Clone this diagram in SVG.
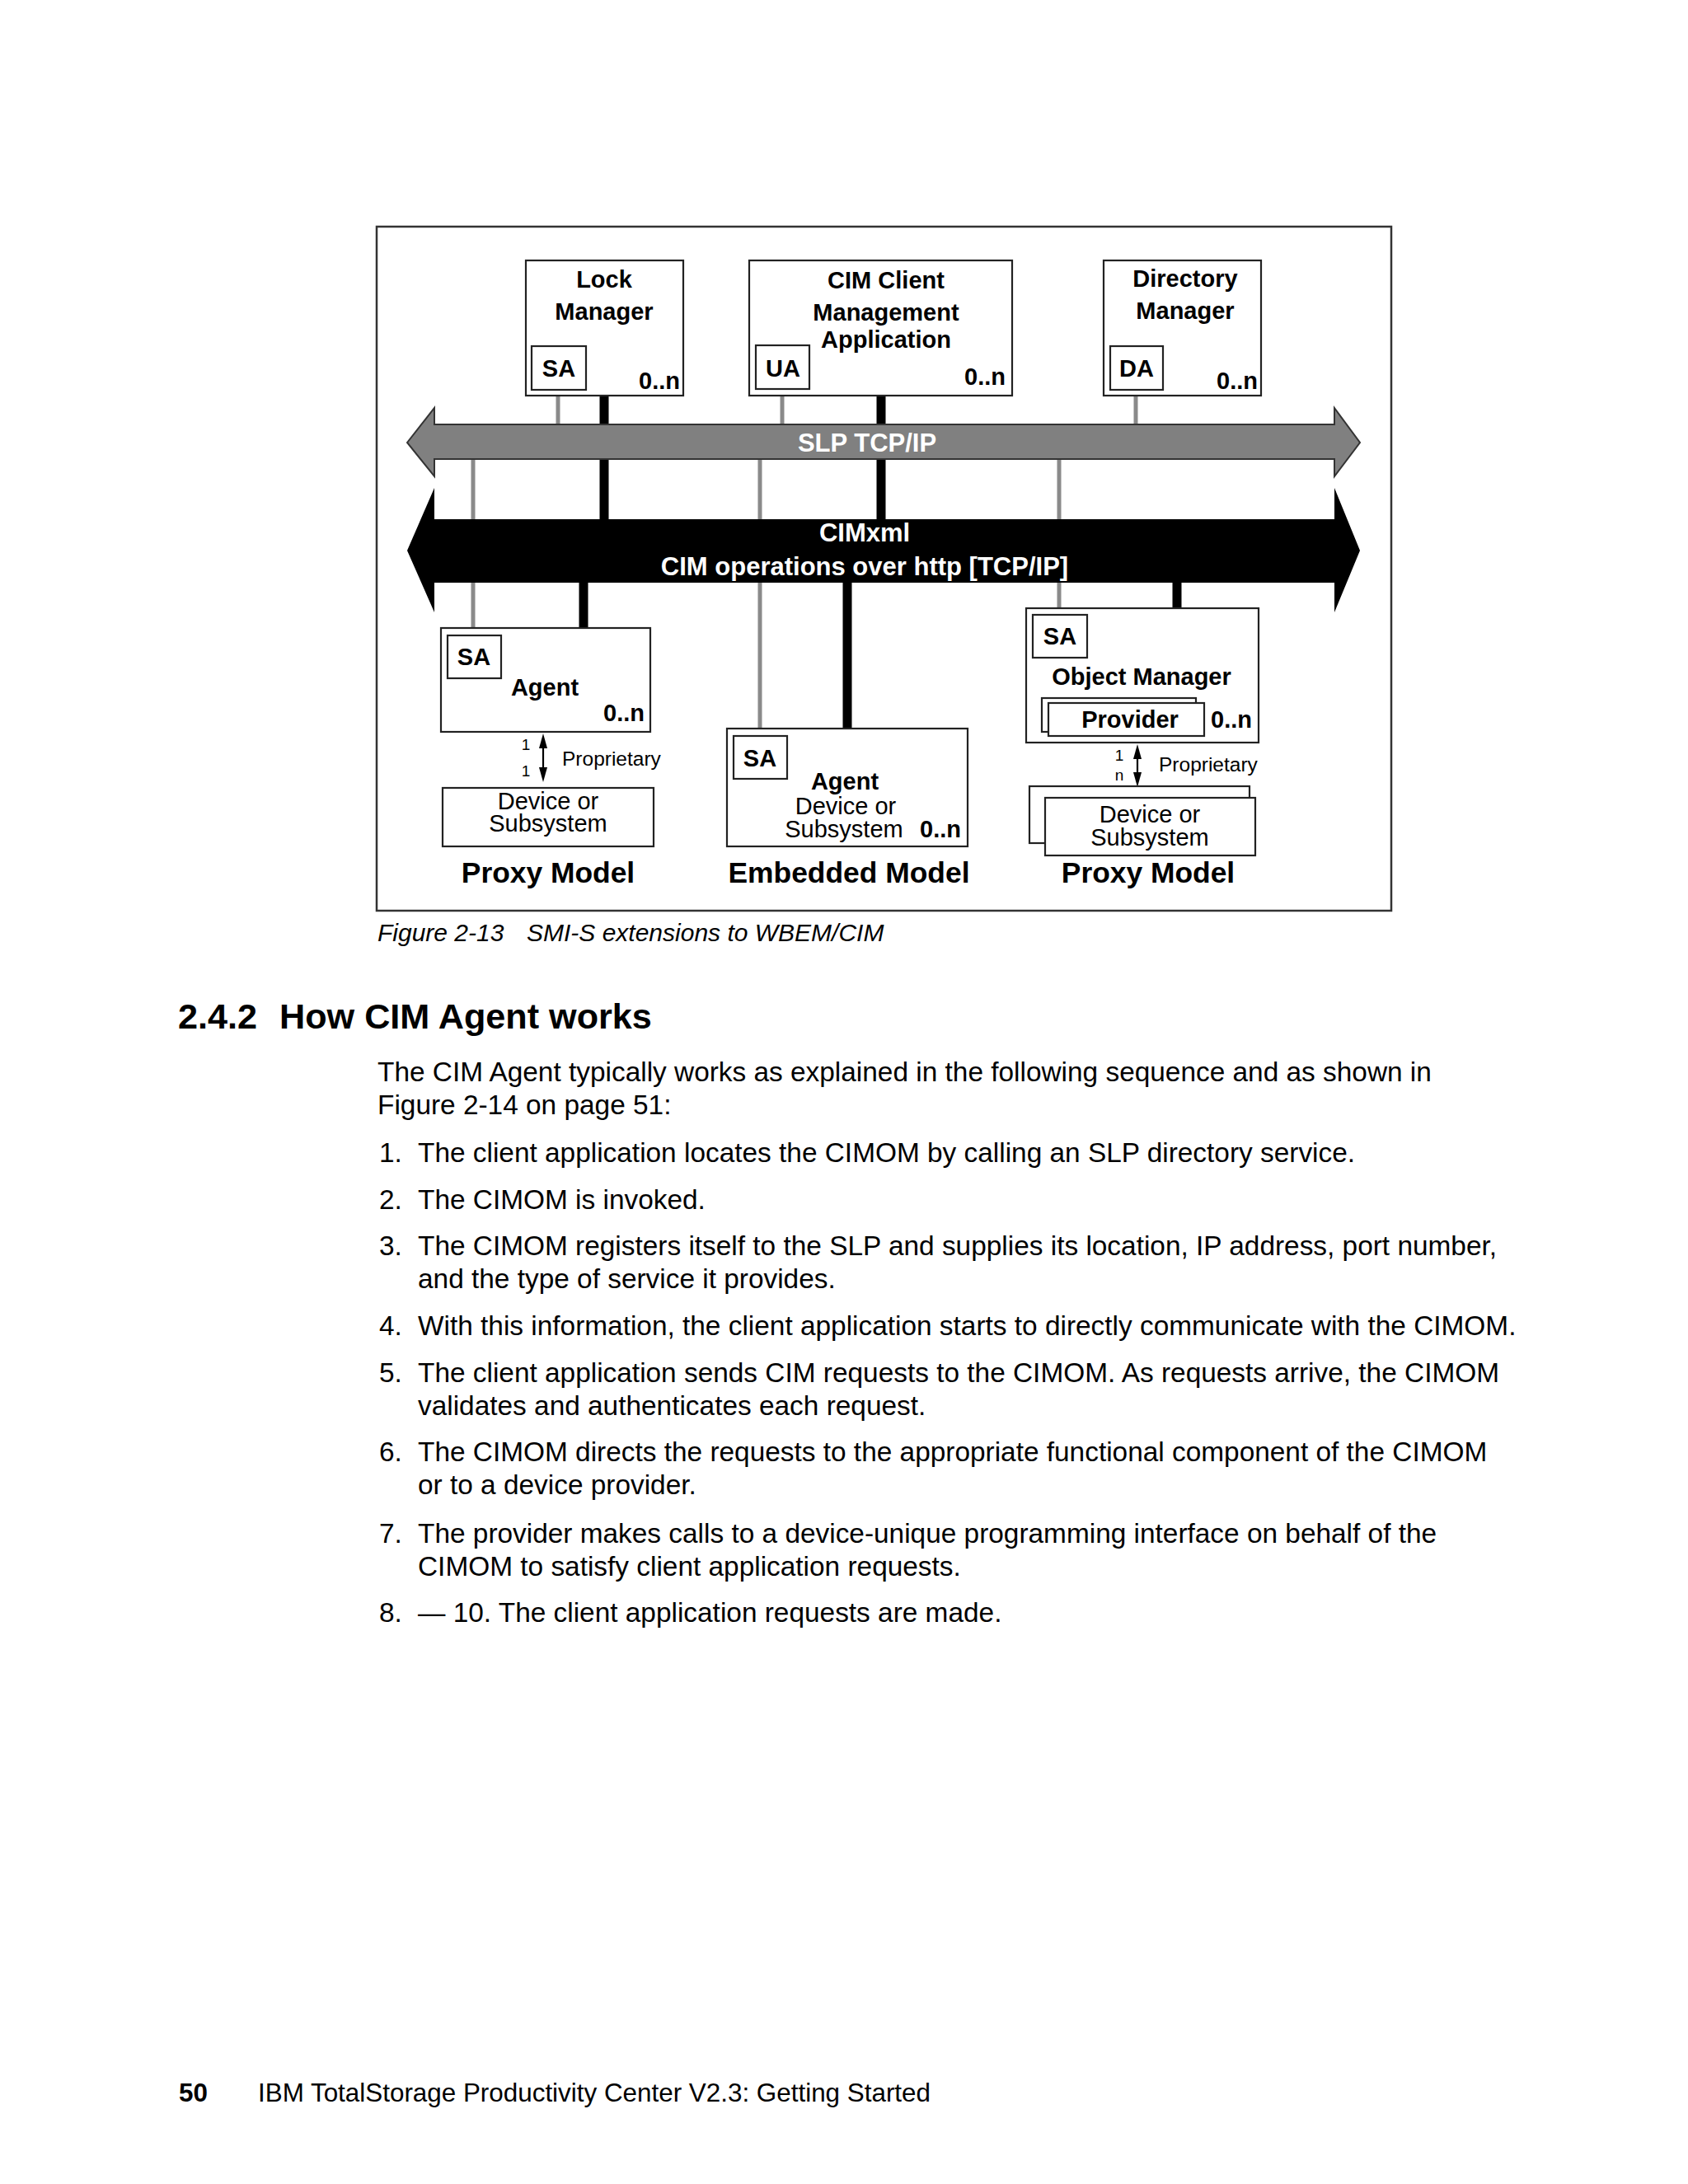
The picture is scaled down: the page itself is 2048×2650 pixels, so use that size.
<svg xmlns="http://www.w3.org/2000/svg" width="2048" height="2650" viewBox="0 0 2048 2650">
<style>
.box{fill:#fff;stroke:#222;stroke-width:2.2}
.frame{fill:none;stroke:#333;stroke-width:2.5}
.g{stroke:#8a8a8a;stroke-width:5;fill:none}
.k{stroke:#000;stroke-width:11;fill:none}
.thin{stroke:#000;stroke-width:2.2;fill:none}
.b{font-family:"Liberation Sans",Arial,sans-serif;font-weight:bold;font-size:29px;fill:#000}
.r{font-family:"Liberation Sans",Arial,sans-serif;font-size:29px;fill:#000}
.sm{font-family:"Liberation Sans",Arial,sans-serif;font-size:24.5px;fill:#000}
.dg{font-family:"Liberation Sans",Arial,sans-serif;font-size:19px;fill:#000}
.w{font-family:"Liberation Sans",Arial,sans-serif;font-weight:bold;font-size:31px;fill:#fff}
.model{font-family:"Liberation Sans",Arial,sans-serif;font-weight:bold;font-size:35.4px;fill:#000}
.body{font-family:"Liberation Sans",Arial,sans-serif;font-size:33.4px;fill:#000}
.cap{font-family:"Liberation Sans",Arial,sans-serif;font-style:italic;font-size:30px;fill:#000}
.head{font-family:"Liberation Sans",Arial,sans-serif;font-weight:bold;font-size:43.2px;fill:#000}
.foot{font-family:"Liberation Sans",Arial,sans-serif;font-size:31.4px;fill:#000}
.c{text-anchor:middle}
.e{text-anchor:end}
</style>

<rect class="frame" x="457" y="275" width="1231" height="830"/>

<!-- connectors -->
<g id="connectors">
  <line class="g" x1="677" y1="473" x2="677" y2="520"/>
  <line class="g" x1="949" y1="472" x2="949" y2="520"/>
  <line class="g" x1="1378" y1="473" x2="1378" y2="520"/>
  <line class="g" x1="574" y1="552" x2="574" y2="771"/>
  <line class="g" x1="922" y1="552" x2="922" y2="893"/>
  <line class="g" x1="1285" y1="552" x2="1285" y2="746"/>
  <line class="k" x1="733" y1="480" x2="733" y2="635"/>
  <line class="k" x1="1069" y1="480" x2="1069" y2="635"/>
  <line class="k" x1="708" y1="700" x2="708" y2="762"/>
  <line class="k" x1="1028" y1="700" x2="1028" y2="884"/>
  <line class="k" x1="1428" y1="700" x2="1428" y2="738"/>
  <!-- proprietary arrows -->
  <line class="thin" x1="659" y1="904" x2="659" y2="936"/>
  <polygon points="659,890 654,908 664,908" fill="#000"/>
  <polygon points="659,949 654,931 664,931" fill="#000"/>
  <line class="thin" x1="1380" y1="916" x2="1380" y2="942"/>
  <polygon points="1380,903 1375,921 1385,921" fill="#000"/>
  <polygon points="1380,955 1375,937 1385,937" fill="#000"/>
</g>

<g id="slp-bus">
  <polygon points="494,537 527,495 527,515 1619,515 1619,495 1650,537 1619,578 1619,557 527,557 527,578" fill="#808080" stroke="#333" stroke-width="2"/>
  <text class="w c" x="1052" y="548">SLP TCP/IP</text>
</g>

<g id="cimxml-bus">
  <polygon points="494,668 527,592 527,630 1619,630 1619,592 1650,668 1619,743 1619,707 527,707 527,743" fill="#000"/>
  <text class="w c" x="1049" y="657">CIMxml</text>
  <text class="w c" x="1049" y="698">CIM operations over http [TCP/IP]</text>
</g>

<g id="lock-manager">
  <rect class="box" x="638" y="316" width="191" height="164"/>
  <text class="b c" x="733" y="349">Lock</text>
  <text class="b c" x="733" y="388">Manager</text>
  <rect class="box" x="645" y="420" width="66" height="53"/>
  <text class="b c" x="678" y="457">SA</text>
  <text class="b e" x="825" y="472">0..n</text>
</g>

<g id="cim-client">
  <rect class="box" x="909" y="316" width="319" height="164"/>
  <text class="b c" x="1075" y="350">CIM Client</text>
  <text class="b c" x="1075" y="389">Management</text>
  <text class="b c" x="1075" y="422">Application</text>
  <rect class="box" x="917" y="419" width="65" height="53"/>
  <text class="b c" x="950" y="457">UA</text>
  <text class="b e" x="1220" y="467">0..n</text>
</g>

<g id="directory-manager">
  <rect class="box" x="1339" y="316" width="191" height="164"/>
  <text class="b c" x="1438" y="348">Directory</text>
  <text class="b c" x="1438" y="387">Manager</text>
  <rect class="box" x="1347" y="420" width="64" height="53"/>
  <text class="b c" x="1379" y="457">DA</text>
  <text class="b e" x="1526" y="472">0..n</text>
</g>

<g id="proxy-agent">
  <rect class="box" x="535" y="762" width="254" height="126"/>
  <rect class="box" x="543" y="771" width="65" height="52"/>
  <text class="b c" x="575" y="807">SA</text>
  <text class="b c" x="661" y="844">Agent</text>
  <text class="b e" x="782" y="875">0..n</text>
  <text class="dg c" x="638" y="910">1</text>
  <text class="dg c" x="638" y="942">1</text>
  <text class="sm" x="682" y="929">Proprietary</text>
</g>

<g id="proxy-device">
  <rect class="box" x="537" y="956" width="256" height="71"/>
  <text class="r c" x="665" y="982">Device or</text>
  <text class="r c" x="665" y="1009">Subsystem</text>
  <text class="model c" x="665" y="1071">Proxy Model</text>
</g>

<g id="embedded-agent">
  <rect class="box" x="882" y="884" width="292" height="143"/>
  <rect class="box" x="890" y="893" width="65" height="52"/>
  <text class="b c" x="922" y="930">SA</text>
  <text class="b c" x="1025" y="958">Agent</text>
  <text class="r c" x="1026" y="988">Device or</text>
  <text class="r c" x="1024" y="1016">Subsystem</text>
  <text class="b e" x="1166" y="1016">0..n</text>
  <text class="model c" x="1030" y="1071">Embedded Model</text>
</g>

<g id="object-manager">
  <rect class="box" x="1245" y="738" width="282" height="163"/>
  <rect class="box" x="1253" y="746" width="66" height="52"/>
  <text class="b c" x="1286" y="782">SA</text>
  <text class="b c" x="1385" y="831">Object Manager</text>
  <rect class="box" x="1264" y="847" width="187" height="41"/>
  <rect class="box" x="1272" y="853" width="189" height="40"/>
  <text class="b c" x="1371" y="883">Provider</text>
  <text class="b" x="1469" y="883">0..n</text>
  <text class="dg c" x="1358" y="923">1</text>
  <text class="dg c" x="1358" y="947">n</text>
  <text class="sm" x="1406" y="936">Proprietary</text>
</g>

<g id="proxy-device-2">
  <rect class="box" x="1249" y="954" width="267" height="69"/>
  <rect class="box" x="1268" y="968" width="255" height="70"/>
  <text class="r c" x="1395" y="998">Device or</text>
  <text class="r c" x="1395" y="1026">Subsystem</text>
  <text class="model c" x="1393" y="1071">Proxy Model</text>
</g>

<g id="page-text">
  <text class="cap" x="458" y="1142">Figure 2-13</text>
  <text class="cap" x="639" y="1142">SMI-S extensions to WBEM/CIM</text>
  <text class="head" x="216" y="1248">2.4.2</text>
  <text class="head" x="339" y="1248">How CIM Agent works</text>
  <text class="body" x="458" y="1312">The CIM Agent typically works as explained in the following sequence and as shown in</text>
  <text class="body" x="458" y="1352">Figure 2-14 on page 51:</text>
  <text class="body" x="460" y="1410">1.</text>
  <text class="body" x="507" y="1410">The client application locates the CIMOM by calling an SLP directory service.</text>
  <text class="body" x="460" y="1467">2.</text>
  <text class="body" x="507" y="1467">The CIMOM is invoked.</text>
  <text class="body" x="460" y="1523">3.</text>
  <text class="body" x="507" y="1523">The CIMOM registers itself to the SLP and supplies its location, IP address, port number,</text>
  <text class="body" x="507" y="1563">and the type of service it provides.</text>
  <text class="body" x="460" y="1620">4.</text>
  <text class="body" x="507" y="1620">With this information, the client application starts to directly communicate with the CIMOM.</text>
  <text class="body" x="460" y="1677">5.</text>
  <text class="body" x="507" y="1677">The client application sends CIM requests to the CIMOM. As requests arrive, the CIMOM</text>
  <text class="body" x="507" y="1717">validates and authenticates each request.</text>
  <text class="body" x="460" y="1773">6.</text>
  <text class="body" x="507" y="1773">The CIMOM directs the requests to the appropriate functional component of the CIMOM</text>
  <text class="body" x="507" y="1813">or to a device provider.</text>
  <text class="body" x="460" y="1872">7.</text>
  <text class="body" x="507" y="1872">The provider makes calls to a device-unique programming interface on behalf of the</text>
  <text class="body" x="507" y="1912">CIMOM to satisfy client application requests.</text>
  <text class="body" x="460" y="1968">8.</text>
  <text class="body" x="507" y="1968">— 10. The client application requests are made.</text>
  <text class="foot" x="217" y="2550" font-weight="bold">50</text>
  <text class="foot" x="313" y="2550">IBM TotalStorage Productivity Center V2.3: Getting Started</text>
</g>
</svg>
